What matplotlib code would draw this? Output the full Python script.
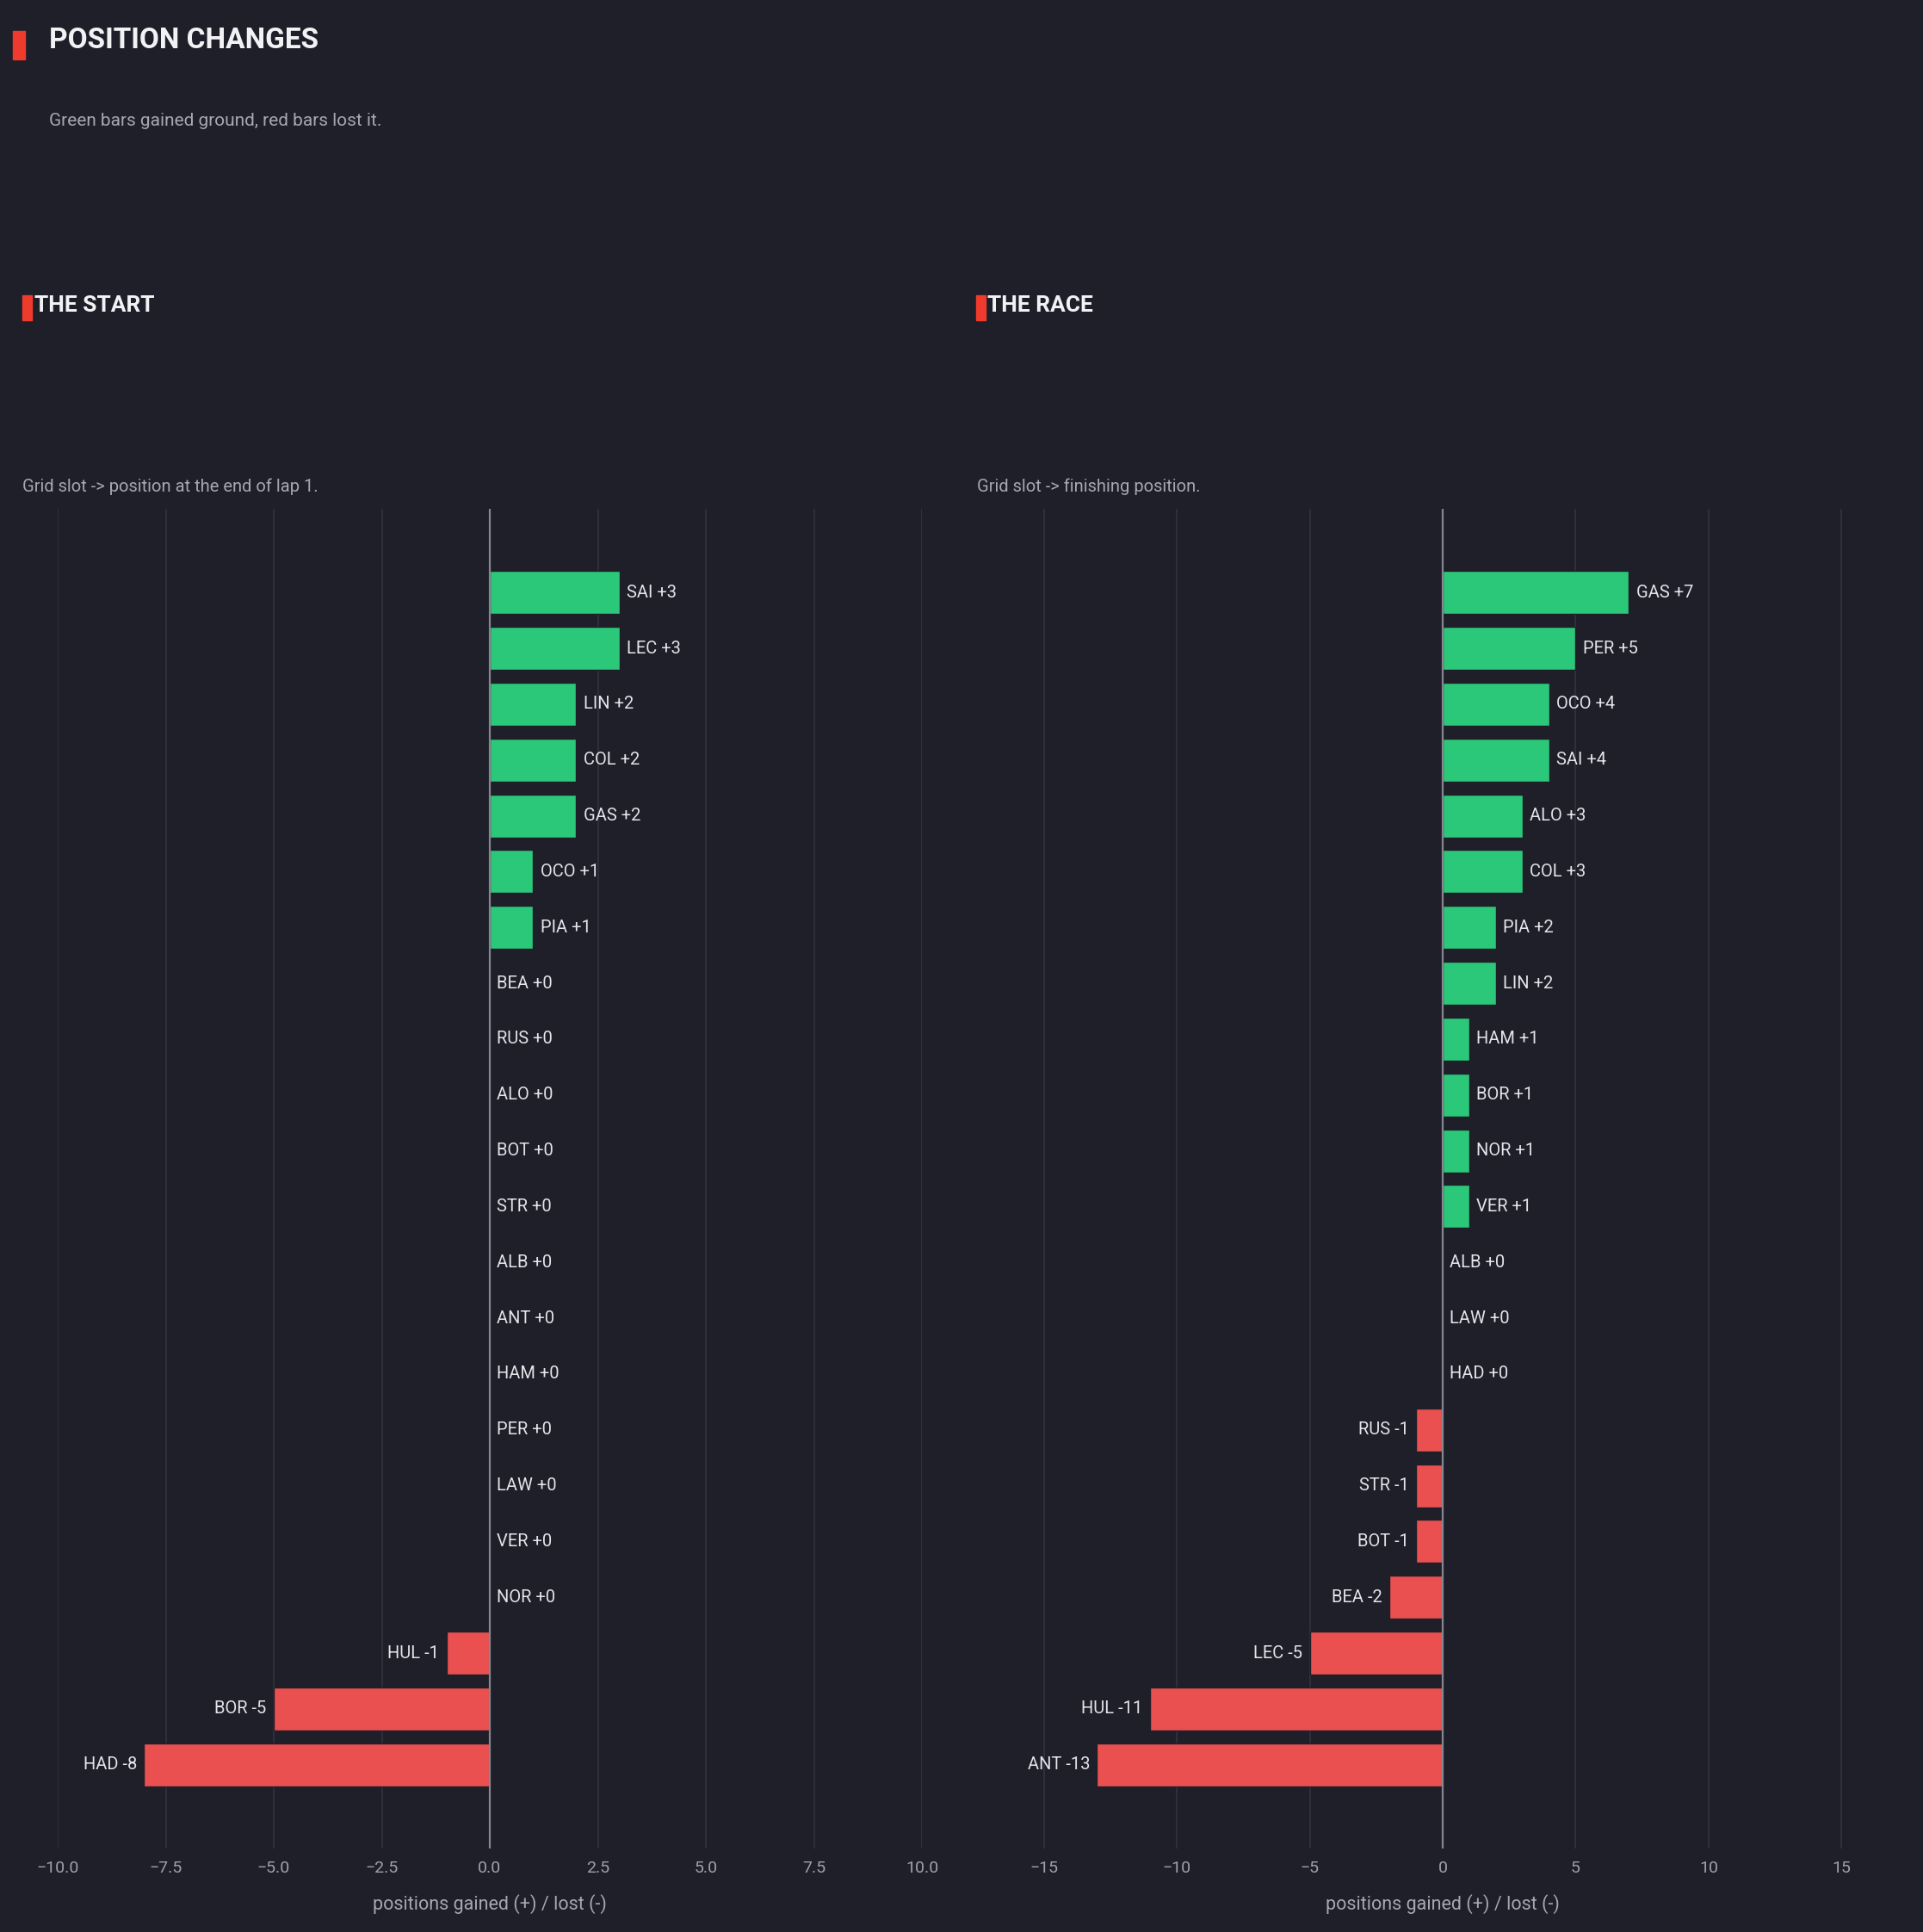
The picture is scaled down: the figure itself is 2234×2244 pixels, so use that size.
import numpy as np
import matplotlib.pyplot as plt
from matplotlib.patches import Rectangle
from matplotlib.ticker import MultipleLocator

# The start: grid slot -> position at the end of lap 1
start_drivers = ['SAI', 'LEC', 'LIN', 'COL', 'GAS', 'OCO', 'PIA', 'BEA', 'RUS', 'ALO', 'BOT',
                 'STR', 'ALB', 'ANT', 'HAM', 'PER', 'LAW', 'VER', 'NOR', 'HUL', 'BOR', 'HAD']
start_delta = [3, 3, 2, 2, 2, 1, 1, 0, 0, 0, 0, 0, 0, 0, 0, 0, 0, 0, 0, -1, -5, -8]

# The race: grid slot -> finishing position
race_drivers = ['GAS', 'PER', 'OCO', 'SAI', 'ALO', 'COL', 'PIA', 'LIN', 'HAM', 'BOR', 'NOR',
                'VER', 'ALB', 'LAW', 'HAD', 'RUS', 'STR', 'BOT', 'BEA', 'LEC', 'HUL', 'ANT']
race_delta = [7, 5, 4, 4, 3, 3, 2, 2, 1, 1, 1, 1, 0, 0, 0, -1, -1, -1, -2, -5, -11, -13]

BG = '#1e1f29'
GREEN = '#2ac878'
RED = '#ea5050'
ACCENT = '#ef3b2d'
GRID = '#30313d'
ZERO = '#85868f'
WHITE = '#f2f2f5'
LABEL = '#e4e4ea'
MUTED = '#a6a7b3'
TICK = '#a0a1ac'

W, H = 2234, 2244


def fx(px):
    return px / W


def fy(py):
    return 1 - py / H


def marker(fig, x, y, w, h):
    """Little red block used in front of every title."""
    fig.patches.append(Rectangle((fx(x), fy(y + h)), w / W, h / H,
                                 transform=fig.transFigure, color=ACCENT, zorder=5))


def draw_panel(fig, x0, drivers, delta, tick_step):
    """Horizontal bars of gained / lost positions."""
    ax = fig.add_axes([fx(x0), fy(2147), 1004 / W, (2147 - 591) / H])
    ax.set_facecolor(BG)

    y = np.arange(len(drivers))
    colors = [GREEN if d > 0 else RED for d in delta]
    ax.barh(y, delta, height=0.77, color=colors, edgecolor=BG, linewidth=1, zorder=2)
    ax.axvline(0, color=ZERO, lw=1.6, zorder=3)

    lim = max(abs(d) for d in delta) * 1.25
    ax.set_xlim(-lim, lim)
    ax.set_ylim(len(drivers) + 0.5, -1.5)
    ax.xaxis.set_major_locator(MultipleLocator(tick_step))
    ax.grid(axis='x', color=GRID, lw=1.3)
    ax.set_axisbelow(True)
    ax.set_yticks([])
    for s in ax.spines.values():
        s.set_visible(False)
    ax.tick_params(axis='x', length=0, pad=10, labelsize=14, labelcolor=TICK)
    ax.set_xlabel('positions gained (+) / lost (-)', color=MUTED, fontsize=15.5, labelpad=15)

    for yi, name, d in zip(y, drivers, delta):
        txt = f'{name} {d:+d}'
        if d < 0:
            ax.annotate(txt, (d, yi), xytext=(-6, 0), textcoords='offset points',
                        ha='right', va='center', color=LABEL, fontsize=14.5, zorder=4)
        else:
            ax.annotate(txt, (d, yi), xytext=(6, 0), textcoords='offset points',
                        ha='left', va='center', color=LABEL, fontsize=14.5, zorder=4)
    return ax


def main():
    plt.rcParams['font.family'] = ['Roboto', 'DejaVu Sans']
    fig = plt.figure(figsize=(W / 100, H / 100), dpi=100, facecolor=BG)

    # Main header
    marker(fig, 15, 36, 14, 33)
    fig.text(fx(57), fy(56), 'POSITION CHANGES', color=WHITE, fontsize=24,
             fontweight='bold', va='baseline', ha='left')
    fig.text(fx(57), fy(146), 'Green bars gained ground, red bars lost it.',
             color=MUTED, fontsize=15, va='baseline', ha='left')

    # Panel headers
    marker(fig, 26, 343, 11, 29)
    fig.text(fx(40), fy(362), 'THE START', color=WHITE, fontsize=19,
             fontweight='bold', va='baseline', ha='left')
    fig.text(fx(26), fy(571), 'Grid slot -> position at the end of lap 1.',
             color=MUTED, fontsize=14.5, va='baseline', ha='left')

    marker(fig, 1134, 343, 11, 29)
    fig.text(fx(1147), fy(362), 'THE RACE', color=WHITE, fontsize=19,
             fontweight='bold', va='baseline', ha='left')
    fig.text(fx(1135), fy(571), 'Grid slot -> finishing position.',
             color=MUTED, fontsize=14.5, va='baseline', ha='left')

    draw_panel(fig, 67, start_drivers, start_delta, 2.5)
    draw_panel(fig, 1174, race_drivers, race_delta, 5)

    fig.savefig('out.png', dpi=100, facecolor=BG)
    plt.close(fig)


if __name__ == "__main__":
    main()
